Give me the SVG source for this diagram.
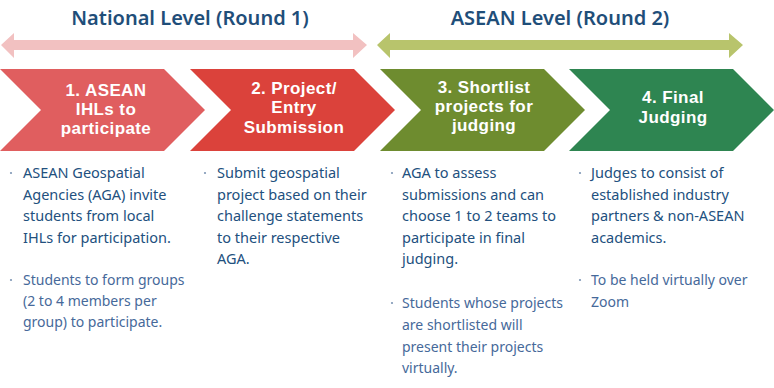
<svg xmlns="http://www.w3.org/2000/svg" width="774" height="388" viewBox="0 0 774 388">
<style>
.title{font-family:"Noto Sans","Open Sans",sans-serif;font-weight:600;font-size:20px;fill:#1F4E79;text-anchor:middle}
.ct{font-family:"Liberation Sans",Arial,sans-serif;font-weight:700;font-size:17px;letter-spacing:0.4px;fill:#FFFFFF;text-anchor:middle}
.b1{font-family:"Noto Sans","Open Sans",sans-serif;font-size:14.5px;fill:#22507E}
.b2{font-family:"Noto Sans","Open Sans",sans-serif;font-size:14px;fill:#46699A}
.dot{fill:#7F96B5}
</style>
<rect width="774" height="388" fill="#FFFFFF"/>
<text class="title" x="190" y="25">National Level (Round 1)</text>
<text class="title" x="560" y="25">ASEAN Level (Round 2)</text>
<g id="connectors">
<polygon points="1,45 14,33 14,40 353,40 353,33 367,45 353,58 353,50 14,50 14,58" fill="#F2C1C1"/>
<polygon points="377,45 390,33 390,40 729,40 729,33 743,45 729,58 729,50 390,50 390,58" fill="#B8C46C"/>
</g>
<g id="step1">
<polygon points="0,69 164,69 205,110 164,151 0,151 41,110" fill="#E05E5F"/>
<text class="ct"><tspan x="106" y="96">1. ASEAN</tspan><tspan x="106" y="115">IHLs to</tspan><tspan x="106" y="134">participate</tspan></text>
</g>
<g id="step2">
<polygon points="190,69 354,69 395,110 354,151 190,151 231,110" fill="#DB423B"/>
<text class="ct"><tspan x="294" y="94">2. Project/</tspan><tspan x="294" y="113">Entry</tspan><tspan x="294" y="133">Submission</tspan></text>
</g>
<g id="step3">
<polygon points="380,69 544,69 585,110 544,151 380,151 421,110" fill="#6E8C2F"/>
<text class="ct"><tspan x="484" y="93">3. Shortlist</tspan><tspan x="484" y="112">projects for</tspan><tspan x="484" y="131">judging</tspan></text>
</g>
<g id="step4">
<polygon points="569,69 733,69 774,110 733,151 569,151 610,110" fill="#2E8551"/>
<text class="ct"><tspan x="673" y="103">4. Final</tspan><tspan x="673" y="123">Judging</tspan></text>
</g>
<g id="col1">
<circle class="dot" cx="11" cy="173" r="1.1"/>
<text class="b1"><tspan x="23" y="178">ASEAN Geospatial</tspan><tspan x="23" y="199.5">Agencies (AGA) invite</tspan><tspan x="23" y="221">students from local</tspan><tspan x="23" y="242.5">IHLs for participation.</tspan></text>
<circle class="dot" cx="11" cy="280" r="1.1"/>
<text class="b2"><tspan x="23" y="285">Students to form groups</tspan><tspan x="23" y="306">(2 to 4 members per</tspan><tspan x="23" y="327">group) to participate.</tspan></text>
</g>
<g id="col2">
<circle class="dot" cx="205" cy="173" r="1.1"/>
<text class="b1"><tspan x="217" y="178">Submit geospatial</tspan><tspan x="217" y="199.5">project based on their</tspan><tspan x="217" y="221">challenge statements</tspan><tspan x="217" y="242.5">to their respective</tspan><tspan x="217" y="264">AGA.</tspan></text>
</g>
<g id="col3">
<circle class="dot" cx="392" cy="173" r="1.1"/>
<text class="b1"><tspan x="402" y="178">AGA to assess</tspan><tspan x="402" y="199.5">submissions and can</tspan><tspan x="402" y="221">choose 1 to 2 teams to</tspan><tspan x="402" y="242.5">participate in final</tspan><tspan x="402" y="264">judging.</tspan></text>
<circle class="dot" cx="392" cy="303" r="1.1"/>
<text class="b2"><tspan x="402" y="308">Students whose projects</tspan><tspan x="402" y="330">are shortlisted will</tspan><tspan x="402" y="352">present their projects</tspan><tspan x="402" y="373">virtually.</tspan></text>
</g>
<g id="col4">
<circle class="dot" cx="580" cy="173" r="1.1"/>
<text class="b1"><tspan x="591" y="178">Judges to consist of</tspan><tspan x="591" y="199.5">established industry</tspan><tspan x="591" y="221">partners &amp; non-ASEAN</tspan><tspan x="591" y="242.5">academics.</tspan></text>
<circle class="dot" cx="580" cy="280" r="1.1"/>
<text class="b2"><tspan x="591" y="285">To be held virtually over</tspan><tspan x="591" y="307">Zoom</tspan></text>
</g>
</svg>
